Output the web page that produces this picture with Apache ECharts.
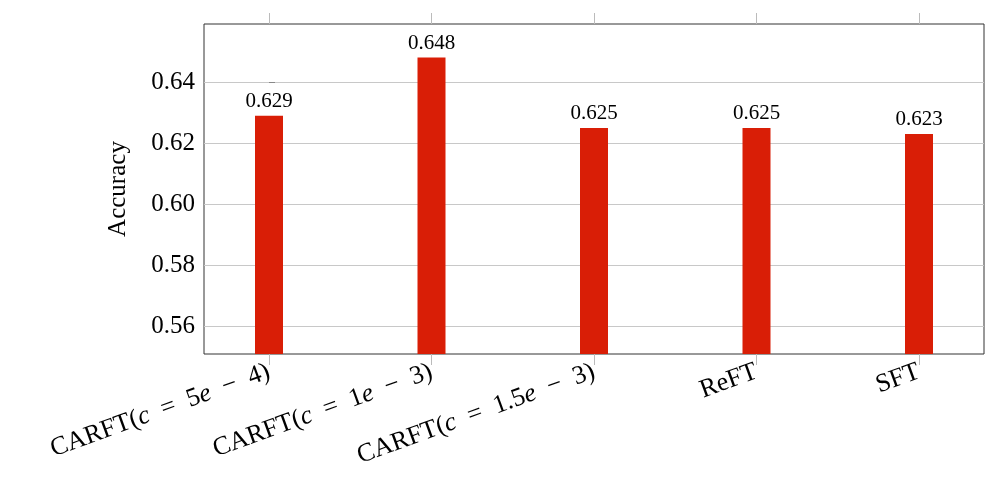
<!DOCTYPE html>
<html>
<head>
<meta charset="utf-8">
<script src="https://cdn.jsdelivr.net/npm/echarts@6/dist/echarts.min.js"></script>
<style>
  html, body { margin: 0; padding: 0; background: #fff; }
  #chart { width: 997px; height: 491px; }
</style>
</head>
<body>
<div id="chart"></div>
<script>
// category labels as rich text (c and e in italic, like the math in the original)
const categories = [
  "{n|CARFT(}{i|c}{n|  =  5}{i|e}{n|  −  4)}",
  "{n|CARFT(}{i|c}{n|  =  1}{i|e}{n|  −  3)}",
  "{n|CARFT(}{i|c}{n|  =  1.5}{i|e}{n|  −  3)}",
  "{n|ReFT}",
  "{n|SFT}"
];
const accuracy = [0.629, 0.648, 0.625, 0.625, 0.623];
const yTicks = [0.56, 0.58, 0.60, 0.62, 0.64];
const xTicks = [0, 1, 2, 3, 4];

const FONT = "'Liberation Serif', 'DejaVu Serif', serif";

const chart = echarts.init(document.getElementById("chart"));

const option = {
  animation: false,
  grid: {
    left: 204,
    right: 13,
    top: 24,
    bottom: 137,
    show: true,
    borderColor: "#333",
    borderWidth: 1,
    backgroundColor: "transparent"
  },
  xAxis: [
    {
      type: "value",
      position: "bottom",
      min: -0.4,
      max: 4.4,
      axisLine: { show: false },
      splitLine: { show: false },
      axisTick: {
        show: true,
        customValues: xTicks,
        length: 11,
        inside: false,
        lineStyle: { color: "#bbb" }
      },
      axisLabel: {
        customValues: xTicks,
        rotate: 20,
        margin: 17,
        formatter: v => categories[Math.round(v)],
        rich: {
          n: { fontFamily: FONT, fontSize: 26, color: "#000" },
          i: { fontFamily: FONT, fontSize: 26, fontStyle: "italic", color: "#000" }
        }
      }
    },
    {
      type: "value",
      position: "top",
      min: -0.4,
      max: 4.4,
      axisLine: { show: false },
      splitLine: { show: false },
      axisTick: {
        customValues: xTicks,
        length: 11,
        lineStyle: { color: "#bbb" }
      },
      axisLabel: { show: false }
    }
  ],
  yAxis: {
    type: "value",
    min: 0.551,
    max: 0.659,
    name: "Accuracy",
    nameLocation: "middle",
    nameGap: 73,
    nameTextStyle: { fontFamily: FONT, fontSize: 25, color: "#000" },
    axisLine: { show: false },
    axisTick: {
      customValues: yTicks,
      inside: true,
      length: 6,
      lineStyle: { color: "#888" }
    },
    splitLine: { lineStyle: { color: "#c8c8c8" } },
    axisLabel: {
      customValues: yTicks,
      margin: 9,
      fontFamily: FONT,
      fontSize: 25,
      color: "#000",
      formatter: v => v.toFixed(2)
    }
  },
  series: [
    {
      type: "bar",
      barWidth: 28,
      data: accuracy.map((v, i) => [i, v]),
      itemStyle: { color: "#d91e06" },
      label: {
        show: true,
        position: "top",
        distance: 4,
        fontFamily: FONT,
        fontSize: 21,
        color: "#000",
        formatter: p => p.value[1].toFixed(3)
      }
    }
  ]
};

chart.setOption(option);
</script>
</body>
</html>
